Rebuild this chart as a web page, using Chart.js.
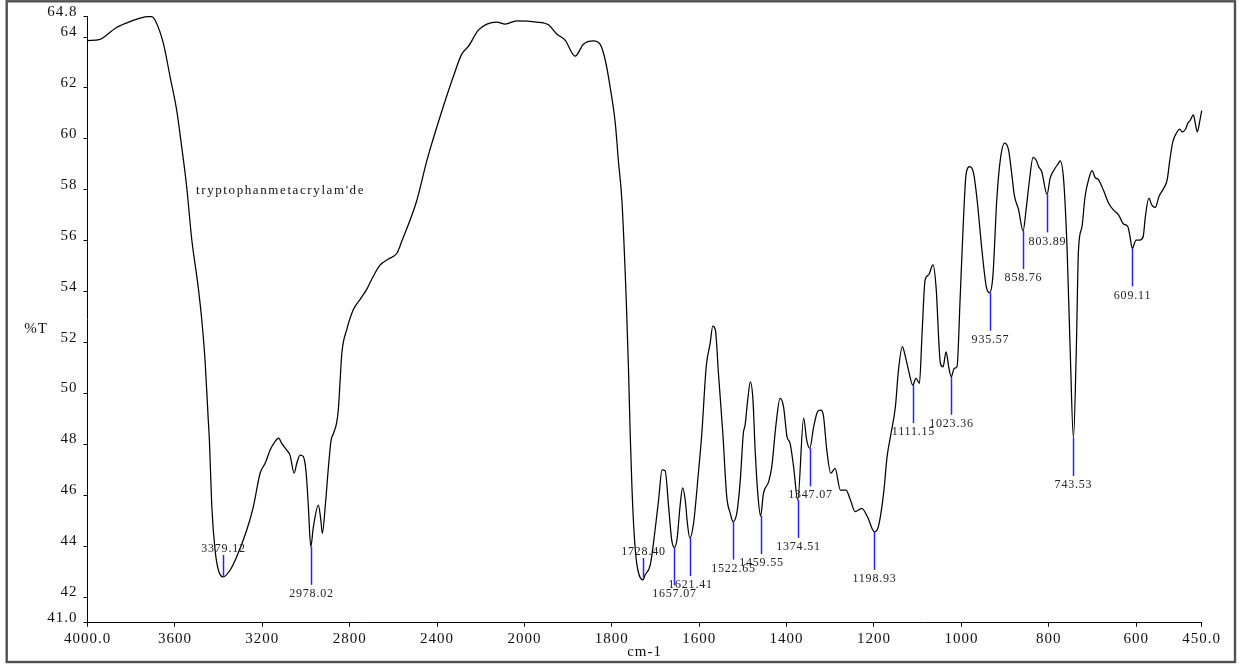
<!DOCTYPE html>
<html>
<head>
<meta charset="utf-8">
<title>IR spectrum – tryptophanmetacrylam'de</title>
<script src="https://cdn.jsdelivr.net/npm/chart.js@4/dist/chart.umd.min.js"></script>
<style>
  html, body { margin: 0; padding: 0; background: #fff; }
  #wrap { width: 1251px; height: 664px; }
</style>
</head>
<body>
<div id="wrap"><canvas id="ir" width="1251" height="664"></canvas></div>
<script>
// ---- Spectrum trace (wavenumber in cm-1, transmittance in %T) ----
const wavenumbers = [
  4000, 3943, 3912, 3874, 3820, 3760, 3722, 3706, 3691, 3653, 3622, 3592, 3569, 3546,
  3523, 3493, 3477, 3462, 3447, 3442, 3431, 3416, 3401,
  3347, 3317, 3271, 3241, 3210, 3187, 3164, 3142, 3125, 3111, 3088, 3073, 3054, 3042,
  3027, 3012, 2999, 2989,
  2966, 2943, 2932, 2925, 2912, 2897, 2885, 2875, 2859, 2852, 2844, 2836, 2813, 2783,
  2752, 2722, 2699, 2661, 2623, 2584, 2561, 2493, 2447, 2386, 2325, 2287, 2256, 2211,
  2172, 2126, 2088, 2035, 1972, 1945, 1926, 1907, 1884, 1865, 1842, 1827, 1815, 1804,
  1792, 1785, 1777, 1767, 1762, 1758, 1754, 1749, 1743,
  1724, 1712, 1701, 1693, 1685, 1678, 1670, 1663,
  1651, 1644, 1638, 1632, 1627,
  1613, 1602, 1594, 1584, 1575, 1569, 1563, 1556, 1546, 1537, 1529,
  1514, 1506, 1499, 1495, 1489, 1483, 1477, 1472, 1466,
  1453, 1441, 1434, 1424, 1415, 1407, 1399, 1392, 1384,
  1361, 1354,
  1338, 1329, 1322, 1316, 1308, 1299, 1289, 1277, 1264, 1254, 1243, 1228, 1215,
  1190, 1178, 1170, 1161, 1151, 1144, 1135, 1129, 1121,
  1104, 1096, 1090, 1083, 1075, 1065, 1058, 1048, 1042, 1035, 1029,
  1016, 1010, 1003, 996, 989, 981, 972, 964, 953, 943,
  928, 919, 911, 901, 892, 884, 879, 869,
  852, 845, 836, 829, 823, 816,
  797, 788, 778, 774, 766, 758, 751,
  737, 732, 724, 717, 709, 701, 694, 686, 675, 663, 652, 640, 629, 619, 614,
  600, 592, 584, 579, 571, 564, 556, 548, 537, 529, 523, 516, 506, 500, 495, 487,
  482, 476, 469, 464, 460, 454, 450
];
const transmittance = [
  63.86, 63.91, 64.08, 64.34, 64.56, 64.74, 64.80, 64.80, 64.67, 63.76, 62.44, 61.14, 59.70, 58.12,
  56.07, 54.16, 52.90, 51.31, 48.93, 48.17, 45.55, 43.85, 43.07,
  43.07, 43.59, 44.64, 45.55, 46.87, 47.26, 47.78, 48.11, 48.25, 48.04, 47.78, 47.58, 46.87, 47.26,
  47.58, 47.52, 46.87, 45.55,
  44.77, 45.62, 45.03, 44.51, 45.55, 47.13, 48.17, 48.41, 48.88, 49.36, 50.46, 51.57, 52.52, 53.30,
  53.70, 54.09, 54.49, 55.04, 55.28, 55.51, 55.99, 57.57, 59.14, 60.88, 62.46, 63.33, 63.64, 64.27,
  64.51, 64.59, 64.51, 64.64, 64.59, 64.48, 64.12, 63.88, 63.25, 63.72, 63.85, 63.72, 63.09, 62.05,
  60.60, 59.14, 57.60, 53.67, 51.05, 48.44, 46.34, 44.51, 43.33,
  42.87, 43.27, 44.64, 45.82, 47.00, 46.97, 45.55, 44.25,
  44.25, 45.55, 46.30, 45.82, 44.90,
  44.90, 46.86, 48.44, 51.05, 51.97, 52.65, 52.50, 50.79, 48.44, 45.95, 45.30,
  45.30, 46.60, 48.44, 48.76, 49.75, 50.46, 49.75, 47.78, 46.08,
  46.08, 46.54, 47.12, 48.83, 49.81, 49.48, 48.30, 48.04, 47.12,
  49.03, 48.17,
  48.70, 49.29, 49.35, 49.16, 47.78, 46.87, 47.06, 46.21, 46.21, 45.82, 45.36, 45.49, 45.16,
  44.77, 46.08, 47.52, 48.44, 49.48, 50.92, 51.84, 51.51, 50.92,
  50.60, 50.40, 52.36, 54.46, 54.66, 55.05, 54.20, 51.18, 51.05, 51.64, 51.05,
  50.99, 51.05, 53.67, 56.55, 58.65, 58.91, 58.65, 57.60, 55.64, 54.20,
  54.59, 57.60, 59.17, 59.83, 59.56, 58.52, 57.80, 57.21,
  57.21, 58.26, 59.28, 59.17, 58.91, 58.71,
  58.45, 58.78, 59.04, 59.14, 58.39, 55.64, 51.71,
  51.71, 55.64, 56.55, 57.73, 58.39, 58.75, 58.49, 58.39, 57.99, 57.47, 57.21, 57.01, 56.66, 56.55, 56.16,
  56.03, 56.03, 56.16, 56.94, 57.67, 57.40, 57.31, 57.73, 58.06, 58.39, 59.17, 59.89, 60.28, 60.38, 60.28, 60.38,
  60.61, 60.74, 60.94, 60.55, 60.28, 60.74, 61.11
];

// ---- Picked absorption bands ----
const peakWavenumbers = [
  3379.12, 2978.02, 1728.40, 1657.07, 1621.41, 1522.65, 1459.55, 1374.51, 1347.07,
  1198.93, 1111.15, 1023.36, 935.57, 858.76, 803.89, 743.53, 609.11
];
const peakTransmittance = [
  42.80, 43.98, 42.68, 43.96, 44.32, 44.97, 45.19, 45.82, 47.85,
  44.57, 50.33, 50.66, 53.96, 56.38, 57.82, 48.25, 55.70
];

// ---- Axis ticks ----
const xTickValues = [4000, 3600, 3200, 2800, 2400, 2000, 1800, 1600, 1400, 1200, 1000, 800, 600, 450];
const xTickLabels = ['4000.0', '3600', '3200', '2800', '2400', '2000', '1800', '1600', '1400', '1200', '1000', '800', '600', '450.0'];
const yTickValues = [41, 42, 44, 46, 48, 50, 52, 54, 56, 58, 60, 62, 64, 64.8];
const yTickLabels = ['41.0', '42', '44', '46', '48', '50', '52', '54', '56', '58', '60', '62', '64', '64.8'];

const sampleName = "tryptophanmetacrylam'de";

// Merge trace and picked bands into one series, ordered high → low wavenumber
const spectrum = wavenumbers.map((w, i) => ({ x: w, y: transmittance[i] }))
  .concat(peakWavenumbers.map((w, i) => ({ x: w, y: peakTransmittance[i] })))
  .sort((a, b) => b.x - a.x);

// Wavenumber axis with the usual IR scale change: above 2000 cm-1 it is compressed 2:1
class WavenumberScale extends Chart.LinearScale {
  _warp(v) { return v > 2000 ? 2000 + (v - 2000) / 2 : v; }
  _unwarp(u) { return u > 2000 ? 2000 + (u - 2000) * 2 : u; }
  getPixelForValue(value) {
    if (value === null || value === undefined || isNaN(value)) return NaN;
    const a = this._warp(this.min), b = this._warp(this.max);
    return this.getPixelForDecimal((this._warp(value) - a) / (b - a));
  }
  getValueForPixel(pixel) {
    const a = this._warp(this.min), b = this._warp(this.max);
    return this._unwarp(a + this.getDecimalForPixel(pixel) * (b - a));
  }
}
WavenumberScale.id = 'wavenumber';
WavenumberScale.defaults = Chart.LinearScale.defaults;
Chart.register(WavenumberScale);

const SERIF = '"Liberation Serif", "Times New Roman", serif';

// Text spacing used by the axis labels
const spacing = {
  id: 'spacing',
  beforeDraw(chart) { chart.ctx.letterSpacing = '1px'; }
};

// Blue band markers with their wavenumber labels
const peakMarkers = {
  id: 'peakMarkers',
  afterDatasetsDraw(chart) {
    const { ctx, scales: { x, y } } = chart;
    ctx.save();
    ctx.font = '12px ' + SERIF;
    ctx.letterSpacing = '0.8px';
    ctx.fillStyle = '#222';
    ctx.textAlign = 'center';
    ctx.textBaseline = 'middle';
    ctx.strokeStyle = '#2424ff';
    ctx.lineWidth = 1.5;
    peakWavenumbers.forEach((w, i) => {
      const t = peakTransmittance[i];
      const px = Math.round(x.getPixelForValue(w)) + 0.5;
      const py = y.getPixelForValue(t);
      // bands close to the floor get their label above the minimum
      const above = t < 43.5;
      ctx.beginPath();
      if (above) { ctx.moveTo(px, py - 1); ctx.lineTo(px, py - 22); }
      else { ctx.moveTo(px, py); ctx.lineTo(px, py + 38); }
      ctx.stroke();
      ctx.fillText(w.toFixed(2), px, above ? py - 28 : py + 47);
    });
    ctx.restore();
  }
};

// Sample name, %T caption and outer frame
const decorations = {
  id: 'decorations',
  afterDraw(chart) {
    const { ctx } = chart;
    ctx.save();
    ctx.fillStyle = '#111';
    ctx.font = '13px ' + SERIF;
    ctx.letterSpacing = '1.6px';
    ctx.textAlign = 'left';
    ctx.textBaseline = 'middle';
    ctx.fillText(sampleName, 196, 191);
    ctx.font = '15px ' + SERIF;
    ctx.letterSpacing = '1px';
    ctx.textAlign = 'center';
    ctx.fillText('%T', 36, 329);
    ctx.strokeStyle = '#505050';
    ctx.lineWidth = 2.4;
    ctx.strokeRect(6.7, 1.3, 1228.3, 660.7);
    ctx.restore();
  }
};

new Chart(document.getElementById('ir'), {
  type: 'line',
  data: {
    datasets: [{
      data: spectrum,
      borderColor: '#000',
      borderWidth: 1.25,
      pointRadius: 0,
      cubicInterpolationMode: 'monotone',
      fill: false,
      clip: false
    }]
  },
  options: {
    responsive: false,
    animation: false,
    devicePixelRatio: 1,
    layout: { padding: { left: 0, top: 16.7, right: 49.3, bottom: 0 } },
    plugins: { legend: { display: false }, tooltip: { enabled: false } },
    scales: {
      x: {
        type: 'wavenumber',
        min: 450,
        max: 4000,
        reverse: true,
        afterBuildTicks: s => { s.ticks = xTickValues.slice().sort((a, b) => a - b).map(v => ({ value: v })); },
        afterFit: s => { s.height = 41.3; },
        ticks: {
          autoSkip: false,
          maxRotation: 0,
          padding: 3,
          color: '#111',
          font: { family: SERIF, size: 15 },
          callback: v => xTickLabels[xTickValues.indexOf(v)]
        },
        grid: { display: true, drawOnChartArea: false, drawTicks: true, tickLength: 4, color: '#000' },
        border: { display: true, color: '#000', width: 1 },
        title: {
          display: true,
          text: 'cm-1',
          color: '#111',
          font: { family: SERIF, size: 15 },
          padding: { top: 0, bottom: 2.5 }
        }
      },
      y: {
        type: 'linear',
        min: 41,
        max: 64.8,
        afterBuildTicks: s => { s.ticks = yTickValues.map(v => ({ value: v })); },
        afterFit: s => { s.width = 87.5; },
        ticks: {
          autoSkip: false,
          padding: 6,
          labelOffset: -5,
          color: '#111',
          font: { family: SERIF, size: 15 },
          callback: v => yTickLabels[yTickValues.indexOf(v)]
        },
        grid: { display: true, drawOnChartArea: false, drawTicks: true, tickLength: 4, color: '#000' },
        border: { display: true, color: '#000', width: 1 }
      }
    }
  },
  plugins: [spacing, peakMarkers, decorations]
});
</script>
</body>
</html>
